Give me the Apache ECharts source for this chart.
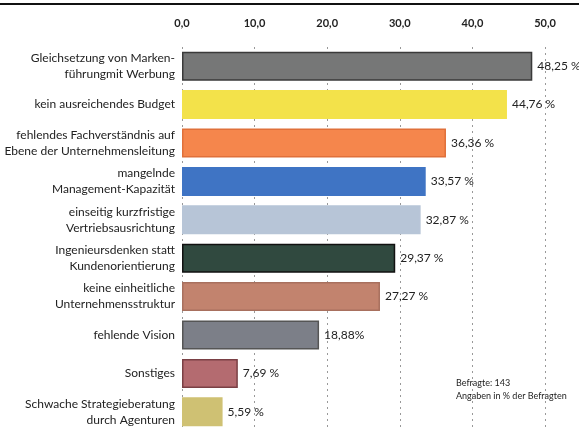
<!DOCTYPE html>
<html><head><meta charset="utf-8">
<script src="https://cdn.jsdelivr.net/npm/echarts@6/dist/echarts.min.js"></script>
<style>html,body{margin:0;padding:0;background:#fff}#c{width:579px;height:439px}</style>
</head><body><div id="c"></div>
<script>
const categories = [
  "Gleichsetzung von Marken-\nführungmit Werbung",
  "kein ausreichendes Budget",
  "fehlendes Fachverständnis auf\nEbene der Unternehmensleitung",
  "mangelnde\nManagement-Kapazität",
  "einseitig kurzfristige\nVertriebsausrichtung",
  "Ingenieursdenken statt\nKundenorientierung",
  "keine einheitliche\nUnternehmensstruktur",
  "fehlende Vision",
  "Sonstiges",
  "Schwache Strategieberatung\ndurch Agenturen"
];
const values = [48.25, 44.76, 36.36, 33.57, 32.87, 29.37, 27.27, 18.88, 7.69, 5.59];
const valueLabels = ["48,25 %", "44,76 %", "36,36 %", "33,57 %", "32,87 %", "29,37 %", "27,27 %", "18,88%", "7,69 %", "5,59 %"];
const barColors = ["#767777", "#f3e24a", "#f5864c", "#3f74c4", "#b7c5d7", "#30493f", "#c2836e", "#7c7f88", "#b46b70", "#cfc173"];
const barBorders = ["#3a3a3a", "#f3e24a", "#e0703a", "#3f74c4", "#b7c5d7", "#111", "#a8705e", "#555", "#7a4045", "#cfc173"];
const tickValues = [0, 10, 20, 30, 40, 50];
const noteLines = ["Befragte: 143", "Angaben in % der Befragten"];

const font = "Lato, 'Open Sans', sans-serif";
const chart = echarts.init(document.getElementById('c'));
chart.setOption({
  animation: false,
  grid: { left: 182, right: 34, top: 47, bottom: 8, containLabel: false, outerBoundsMode: 'none' },
  xAxis: {
    type: 'value', position: 'top', min: 0, max: 50, interval: 10,
    axisLine: { show: false }, axisTick: { show: false },
    axisLabel: { margin: 18, color: '#222', fontFamily: font, fontSize: 11, fontWeight: 'bold',
      formatter: v => tickValues.includes(v) ? v.toFixed(1).replace('.', ',') : '' },
    splitLine: { show: true, lineStyle: { type: [2, 4], color: '#999', width: 1 } }
  },
  yAxis: {
    type: 'category', inverse: true, data: categories,
    axisLine: { show: false }, axisTick: { show: false },
    axisLabel: { margin: 7, color: '#222', fontFamily: font, fontSize: 12, lineHeight: 16, align: 'right' }
  },
  series: [{
    type: 'bar', barWidth: 29,
    data: values.map((v, i) => ({ value: v,
      itemStyle: { color: barColors[i], borderColor: barBorders[i], borderWidth: 1.5 },
      label: { formatter: valueLabels[i] } })),
    label: { show: true, position: 'right', distance: 5, color: '#222', fontFamily: font, fontSize: 12 }
  }],
  graphic: [
    { type: 'rect', left: 0, top: 3, shape: { width: 579, height: 2 }, style: { fill: '#111' } },
    { type: 'text', left: 456, top: 377, style: { text: noteLines.join('\n'), fill: '#222', font: '9px ' + font, lineHeight: 13 } }
  ]
});
</script></body></html>
